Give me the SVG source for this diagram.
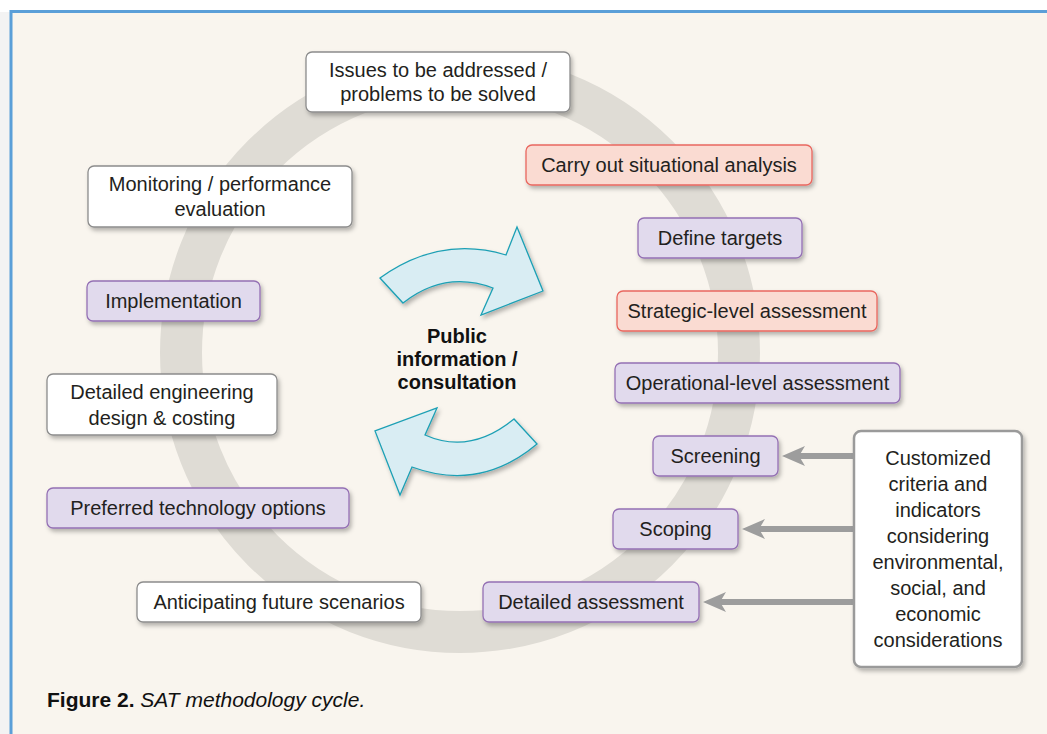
<svg xmlns="http://www.w3.org/2000/svg" width="1047" height="734" viewBox="0 0 1047 734">
<defs>
<style>
.bw{fill:#ffffff;stroke:#8c8c8c;stroke-width:1.3}
.bp{fill:#e1daed;stroke:#9470b4;stroke-width:1.3}
.br{fill:#fadbd2;stroke:#e9675f;stroke-width:1.3}
.t{font-family:"Liberation Sans",Arial,sans-serif;font-size:20px;fill:#231f20;text-anchor:middle}
.tb{font-family:"Liberation Sans",Arial,sans-serif;font-size:20px;font-weight:bold;fill:#111;text-anchor:middle}
.conn{stroke:#9d9d9d;stroke-width:6;fill:none}
.blue{fill:#d9edf3;stroke:#1da0b5;stroke-width:1.3;stroke-linejoin:miter}
</style>
<filter id="sh" x="-10%" y="-10%" width="130%" height="140%">
<feDropShadow dx="2" dy="3" stdDeviation="2" flood-color="#000" flood-opacity="0.28"/>
</filter>
<marker id="ah" markerUnits="userSpaceOnUse" markerWidth="24" markerHeight="22" refX="6" refY="10" orient="auto">
<path d="M0,0 L23,10 L0,20 L6,10 Z" fill="#9d9d9d"/>
</marker>
</defs>
<rect x="0" y="0" width="1047" height="734" fill="#ffffff"/>
<rect x="0" y="12" width="10" height="722" fill="#f3f3f3"/>
<rect x="11" y="11.5" width="1036" height="722.5" fill="#f9f5ee"/>
<path d="M11,734 L11,11.5 L1047,11.5" fill="none" stroke="#5b9fd8" stroke-width="3"/>
<circle id="ring" cx="460" cy="353" r="279" fill="none" stroke="#dfdcd5" stroke-width="42"/>
<g id="cycle-arrows" filter="url(#sh)">
<path class="blue" d="M380,278 Q440,235 506,255 L517,227 L543,291 L481,315 L493,288 Q445,270 403,303 Z"/>
<path class="blue" d="M537,444 Q480,492 412,467 L400,495 L375,431 L437,408 L425,435 Q470,455 514,419 Z"/>
</g>
<g id="center-label">
<text class="tb" x="457" y="343">Public</text>
<text class="tb" x="457" y="366">information /</text>
<text class="tb" x="457" y="389">consultation</text>
</g>
<g id="connectors">
<line class="conn" x1="854" y1="456" x2="799" y2="456" marker-end="url(#ah)"/>
<line class="conn" x1="854" y1="529" x2="759" y2="529" marker-end="url(#ah)"/>
<line class="conn" x1="854" y1="602" x2="720" y2="602" marker-end="url(#ah)"/>
</g>
<g id="n-issues"><rect class="bw" x="306" y="52" width="264" height="60" rx="6" filter="url(#sh)"/><text class="t" x="438" y="77">Issues to be addressed /</text><text class="t" x="438" y="101">problems to be solved</text></g>
<g id="n-monitoring"><rect class="bw" x="88" y="166" width="264" height="61" rx="6" filter="url(#sh)"/><text class="t" x="220" y="191">Monitoring / performance</text><text class="t" x="220" y="216">evaluation</text></g>
<g id="n-situational"><rect class="br" x="526" y="145" width="286" height="40" rx="6" filter="url(#sh)"/><text class="t" x="669" y="172">Carry out situational analysis</text></g>
<g id="n-targets"><rect class="bp" x="638" y="218" width="164" height="40" rx="6" filter="url(#sh)"/><text class="t" x="720" y="245">Define targets</text></g>
<g id="n-strategic"><rect class="br" x="617" y="291" width="260" height="40" rx="6" filter="url(#sh)"/><text class="t" x="747" y="318">Strategic-level assessment</text></g>
<g id="n-operational"><rect class="bp" x="615" y="363" width="285" height="40" rx="6" filter="url(#sh)"/><text class="t" x="757.5" y="390">Operational-level assessment</text></g>
<g id="n-implementation"><rect class="bp" x="87" y="281" width="173" height="40" rx="6" filter="url(#sh)"/><text class="t" x="173.5" y="308">Implementation</text></g>
<g id="n-engineering"><rect class="bw" x="47" y="374" width="230" height="61" rx="6" filter="url(#sh)"/><text class="t" x="162" y="399">Detailed engineering</text><text class="t" x="162" y="425">design &amp; costing</text></g>
<g id="n-preferred"><rect class="bp" x="47" y="488" width="302" height="40" rx="6" filter="url(#sh)"/><text class="t" x="198" y="515">Preferred technology options</text></g>
<g id="n-screening"><rect class="bp" x="653" y="436" width="125" height="40" rx="6" filter="url(#sh)"/><text class="t" x="715.5" y="463">Screening</text></g>
<g id="n-scoping"><rect class="bp" x="613" y="509" width="125" height="40" rx="6" filter="url(#sh)"/><text class="t" x="675.5" y="536">Scoping</text></g>
<g id="n-detailed"><rect class="bp" x="483" y="582" width="216" height="40" rx="6" filter="url(#sh)"/><text class="t" x="591" y="609">Detailed assessment</text></g>
<g id="n-anticipating"><rect class="bw" x="137" y="582" width="284" height="40" rx="6" filter="url(#sh)"/><text class="t" x="279" y="609">Anticipating future scenarios</text></g>
<g id="n-criteria"><rect x="854" y="431" width="168" height="236" rx="7" fill="#ffffff" stroke="#9a9a9a" stroke-width="2.5" filter="url(#sh)"/>
<text class="t" x="938" y="465">Customized</text>
<text class="t" x="938" y="491">criteria and</text>
<text class="t" x="938" y="517">indicators</text>
<text class="t" x="938" y="543">considering</text>
<text class="t" x="938" y="569">environmental,</text>
<text class="t" x="938" y="595">social, and</text>
<text class="t" x="938" y="621">economic</text>
<text class="t" x="938" y="647">considerations</text>
</g>
<g id="caption"><text x="47" y="707" font-family="'Liberation Sans',Arial,sans-serif" font-size="21" fill="#111"><tspan font-weight="bold">Figure 2.</tspan><tspan font-style="italic"> SAT methodology cycle.</tspan></text></g>
</svg>
